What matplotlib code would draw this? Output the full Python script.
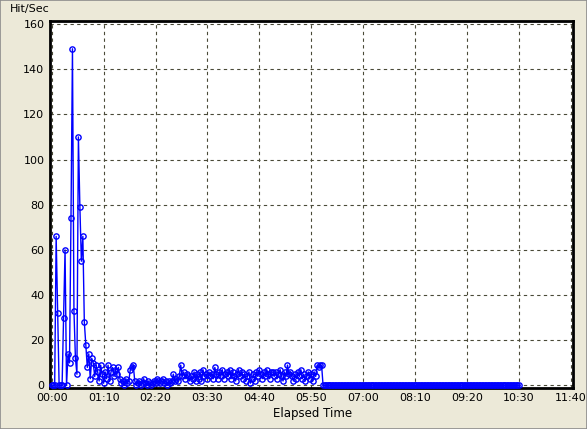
import matplotlib
matplotlib.use('Agg')
import matplotlib.pyplot as plt
from matplotlib.patches import Rectangle
import numpy as np

# hits per second, one sample every 2 s starting at 00:00
step = 2
active_hits = [
    0, 0, 0, 66, 32, 0, 0, 0, 30, 60,
    0, 14, 10, 74, 149, 33, 12, 5, 110, 79,
    55, 66, 28, 18, 8, 14, 3, 12, 10, 4,
    9, 6, 2, 9, 5, 1, 6, 3, 9, 2,
    6, 8, 4, 7, 5, 8, 3, 1, 2, 0,
    3, 1, 2, 7, 8, 9, 2, 0, 1, 2,
    0, 1, 3, 1, 0, 2, 1, 0, 1, 2,
    1, 3, 2, 1, 2, 3, 1, 2, 0, 2,
    1, 2, 5, 2, 3, 2, 4, 9, 4, 6,
    3, 5, 4, 2, 4, 3, 6, 2, 5, 3,
    6, 2, 7, 4, 5, 3, 6, 4, 5, 3,
    8, 5, 3, 6, 4, 7, 3, 5, 6, 4,
    7, 3, 6, 4, 2, 5, 7, 4, 6, 3,
    5, 2, 4, 6, 1, 3, 5, 2, 6, 4,
    7, 5, 3, 6, 4, 7, 5, 3, 6, 6,
    4, 6, 3, 5, 7, 4, 2, 6, 4, 9,
    5, 6, 4, 2, 5, 3, 6, 4, 7, 3,
    5, 2, 4, 6, 3, 5, 2, 6, 4, 9,
    8, 9, 9,
]
idle_hits = [
    0, 0, 0, 0, 0, 0, 0, 0, 0, 0, 0, 0, 0, 0, 0, 0, 0, 0, 0,
    0, 0, 0, 0, 0, 0, 0, 0, 0, 0, 0, 0, 0, 0, 0, 0, 0, 0, 0,
    0, 0, 0, 0, 0, 0, 0, 0, 0, 0, 0, 0, 0, 0, 0, 0, 0, 0, 0,
    0, 0, 0, 0, 0, 0, 0, 0, 0, 0, 0, 0, 0, 0, 0, 0, 0, 0, 0,
    0, 0, 0, 0, 0, 0, 0, 0, 0, 0, 0, 0, 0, 0, 0, 0, 0, 0, 0,
    0, 0, 0, 0, 0, 0, 0, 0, 0, 0, 0, 0, 0, 0, 0, 0, 0, 0, 0,
    0, 0, 0, 0, 0, 0, 0, 0, 0, 0, 0, 0, 0, 0, 0, 0, 0, 0, 0,
]
hits = active_hits + idle_hits
seconds = np.arange(len(hits)) * step

x_ticks = [0, 70, 140, 210, 280, 350, 420, 490, 560, 630, 700]
x_labels = ['00:00', '01:10', '02:20', '03:30', '04:40', '05:50',
            '07:00', '08:10', '09:20', '10:30', '11:40']
y_ticks = [0, 20, 40, 60, 80, 100, 120, 140, 160]

bg = '#ECE9D8'
fig = plt.figure(figsize=(5.87, 4.29), dpi=100, facecolor=bg)
fig.patches.append(Rectangle((0, 0), 1, 1, transform=fig.transFigure,
                             fill=False, edgecolor='#8c8c8c', linewidth=1.2))

ax = fig.add_axes([50 / 587, 41.5 / 429, 522.5 / 587, 366.5 / 429])
ax.set_facecolor('white')

ax.plot(seconds, hits, color='#0000FF', linewidth=1.0, marker='o',
        markersize=3.8, markerfacecolor='none', markeredgecolor='#0000FF',
        markeredgewidth=1.0, zorder=3, clip_on=False)

ax.set_xlim(-2.3, 702.4)
ax.set_ylim(-0.9, 161.3)
ax.set_xticks(x_ticks)
ax.set_xticklabels(x_labels)
ax.set_yticks(y_ticks)
ax.tick_params(length=0, labelsize=8, colors='black', pad=4)
ax.grid(True, color='#4a4a38', linestyle=(0, (3, 3)), linewidth=0.8)
ax.set_axisbelow(True)
for s in ax.spines.values():
    s.set_linewidth(2.0)
    s.set_color('black')

fig.text(10 / 587, 1 - 9 / 429, 'Hit/Sec', fontsize=8, ha='left', va='center')
fig.text(313 / 587, 1 - 414 / 429, 'Elapsed Time', fontsize=8.5,
         ha='center', va='center')

fig.savefig('out.png', dpi=100, facecolor=bg)
